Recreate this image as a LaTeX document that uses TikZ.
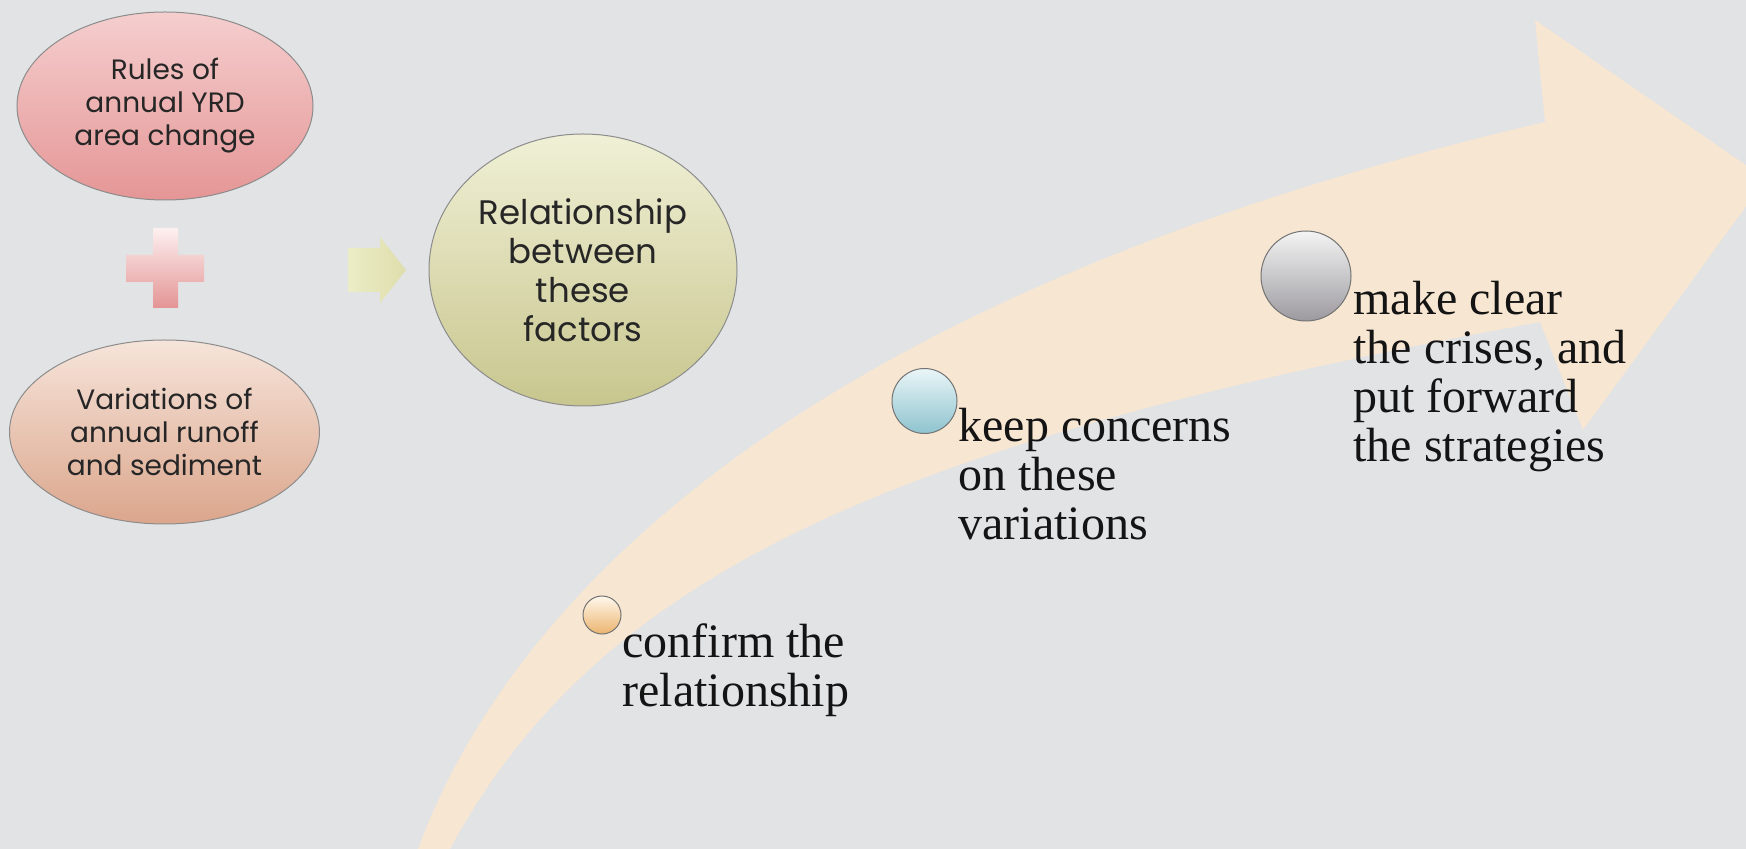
\documentclass[tikz,border=0pt]{standalone}
\usepackage{fontspec}
\setmainfont{Liberation Serif}
\newfontfamily\gothic{Poppins}
\usetikzlibrary{shapes.geometric}
\definecolor{bgc}{RGB}{226,227,229}
\definecolor{beige}{RGB}{247,230,209}
\definecolor{redtop}{RGB}{245,206,206}
\definecolor{redbot}{RGB}{229,150,150}
\definecolor{browntop}{RGB}{246,228,218}
\definecolor{brownbot}{RGB}{219,166,140}
\definecolor{olivetop}{RGB}{240,240,214}
\definecolor{olivebot}{RGB}{200,198,142}
\definecolor{plustop}{RGB}{253,240,240}
\definecolor{plusbot}{RGB}{228,148,148}
\definecolor{arrl}{RGB}{236,236,198}
\definecolor{arrr}{RGB}{222,222,172}
\definecolor{ortop}{RGB}{255,248,236}
\definecolor{orbot}{RGB}{235,180,110}
\definecolor{bltop}{RGB}{234,246,248}
\definecolor{blbot}{RGB}{142,195,206}
\definecolor{grtop}{RGB}{244,244,244}
\definecolor{grbot}{RGB}{156,154,159}
\begin{document}
\begin{tikzpicture}[x=0.5pt,y=-0.5pt,
  oval/.style={ellipse, draw=black!45, line width=0.5pt, inner sep=0pt, align=center,
    font=\gothic\fontsize{14}{16.5}\selectfont, text=black!85},
  dot/.style={circle, draw=black!55, line width=0.5pt, inner sep=0pt},
  steptext/.style={anchor=north west, inner sep=0pt, align=left,
    font=\fontsize{24}{24.5}\selectfont, text=black!92}
]
\useasboundingbox (0,0) rectangle (1746,849);
\fill[bgc] (0,0) rectangle (1746,849);
% big curved arrow
\fill[beige] (418,849) .. controls (512,595) and (805,295) .. (1545,122)
  -- (1535,20) -- (1766,179) -- (1583,430) -- (1540,322)
  .. controls (900,440) and (600,570) .. (450,849) -- cycle;
% left group
\node[oval, minimum width=148pt, minimum height=94pt, top color=redtop, bottom color=redbot]
  (rules) at (165,106) {Rules of\\annual YRD\\area change};
\node[oval, minimum width=155pt, minimum height=92pt, top color=browntop, bottom color=brownbot]
  (var) at (164.5,432) {Variations of\\annual runoff\\and sediment};
\node[oval, minimum width=154pt, minimum height=136pt, top color=olivetop, bottom color=olivebot,
  font=\gothic\fontsize{17}{19.5}\selectfont]
  (rel) at (583,270) {Relationship\\between\\these\\factors};
\shade[top color=plustop, bottom color=plusbot]
  (153,228) -- (178,228) -- (178,255) -- (204,255) -- (204,282) -- (178,282) -- (178,308)
  -- (153,308) -- (153,282) -- (126,282) -- (126,255) -- (153,255) -- cycle;
\shade[left color=arrl, right color=arrr]
  (348,248) -- (380,248) -- (380,237) -- (406,270) -- (380,303) -- (380,292) -- (348,292) -- cycle;
% steps
\node[dot, minimum size=19pt, top color=ortop, bottom color=orbot] (d1) at (602,615) {};
\node[dot, minimum size=32.5pt, top color=bltop, bottom color=blbot] (d2) at (924.5,401) {};
\node[dot, minimum size=45pt, top color=grtop, bottom color=grbot] (d3) at (1306,276) {};
\node[steptext] (t1) at (622,623) {confirm the\\relationship};
\node[steptext] (t2) at (958,408) {keep concerns\\on these\\variations};
\node[steptext] (t3) at (1353,281) {make clear\\the crises, and\\put forward\\the strategies};
\end{tikzpicture}
\end{document}
